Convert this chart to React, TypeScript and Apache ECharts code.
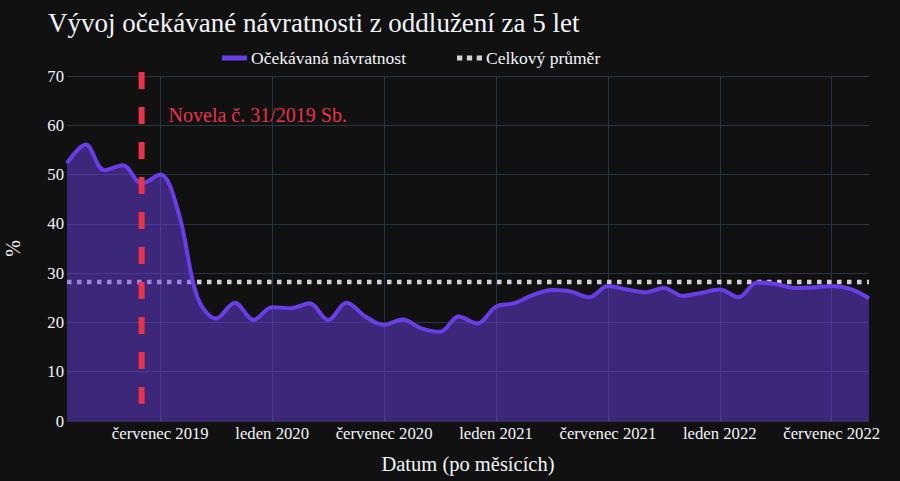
import { useEffect, useRef } from 'react';
import * as echarts from 'echarts';

const MONTHS = [
  '2019-02', '2019-03', '2019-04', '2019-05', '2019-06', '2019-07', '2019-08', '2019-09', '2019-10', '2019-11', '2019-12',
  '2020-01', '2020-02', '2020-03', '2020-04', '2020-05', '2020-06', '2020-07', '2020-08', '2020-09', '2020-10', '2020-11', '2020-12',
  '2021-01', '2021-02', '2021-03', '2021-04', '2021-05', '2021-06', '2021-07', '2021-08', '2021-09', '2021-10', '2021-11', '2021-12',
  '2022-01', '2022-02', '2022-03', '2022-04', '2022-05', '2022-06', '2022-07', '2022-08', '2022-09',
];

const RETURN_PCT = [
  52.3, 56.1, 50.9, 51.9, 48.2, 50.0, 42.0, 25.0, 20.8, 24.0, 20.5,
  23.1, 22.9, 23.9, 20.5, 24.0, 21.2, 19.5, 20.6, 18.8, 18.1, 21.2, 19.8,
  23.2, 23.9, 25.6, 26.6, 26.3, 25.1, 27.4, 26.7, 26.1, 27.0, 25.4, 26.0,
  26.7, 25.1, 28.1, 27.8, 27.0, 27.1, 27.4, 26.8, 24.9,
];

const OVERALL_AVG = 28.2;

// vertical dashed marker for the law change (runs a bit above the top gridline)
const LAW_MONTH = '2019-06';
const LAW_LINE_Y = [70.8, 3.5];
const LAW_LABEL_Y = 62;
const LAW_LABEL = 'Novela č. 31/2019 Sb.';

const MONTH_NAMES: Record<string, string> = { '01': 'leden', '07': 'červenec' };

const BG = '#111111';
const GRID = '#283442';
const TEXT = '#f2f5fa';
const PURPLE = '#6a3ee6';
const AVG_COLOR = '#d0d0d6';
const RED = '#e8334a';
const FONT = 'Liberation Serif, serif';

// three little squares, like the dotted legend sample
const DOTS_ICON = 'path://M0,0h5.3v5h-5.3z M9.85,0h5.3v5h-5.3z M19.7,0h5.3v5h-5.3z';

const isTickMonth = (_i: number, v: string) => v.endsWith('-01') || v.endsWith('-07');

export default function App() {
  const ref = useRef<HTMLDivElement>(null);

  useEffect(() => {
    document.body.style.margin = '0';
    document.body.style.background = BG;
    if (!ref.current) return;
    const chart = echarts.init(ref.current, undefined, { renderer: 'svg' });

    chart.setOption({
      backgroundColor: BG,
      animation: false,
      textStyle: { fontFamily: FONT, color: TEXT },
      title: {
        text: 'Vývoj očekávané návratnosti z oddlužení za 5 let',
        left: 43,
        top: 4,
        textStyle: { fontFamily: FONT, fontSize: 27, fontWeight: 'normal', color: TEXT },
      },
      legend: {
        left: 217,
        top: 44,
        itemGap: 51,
        itemWidth: 25,
        itemHeight: 5,
        textStyle: { fontFamily: FONT, fontSize: 17.5, color: TEXT, padding: [0, 0, 0, -1] },
        data: [
          { name: 'Očekávaná návratnost', icon: 'rect' },
          { name: 'Celkový průměr', icon: DOTS_ICON, itemStyle: { color: AVG_COLOR } },
        ],
      },
      grid: { left: 67, right: 31, top: 76, bottom: 60, outerBoundsMode: 'none', containLabel: false },
      xAxis: {
        type: 'category',
        data: MONTHS,
        boundaryGap: false,
        name: 'Datum (po měsících)',
        nameLocation: 'middle',
        nameGap: 32,
        nameTextStyle: { fontFamily: FONT, fontSize: 20.5, color: TEXT },
        axisLine: { show: false },
        axisTick: { show: false },
        axisLabel: {
          interval: isTickMonth,
          fontFamily: FONT,
          fontSize: 16.7,
          color: TEXT,
          margin: 4,
          formatter: (v: string) => `${MONTH_NAMES[v.slice(5)] ?? ''} ${v.slice(0, 4)}`,
        },
        splitLine: { show: true, interval: isTickMonth, lineStyle: { color: GRID, width: 1 } },
      },
      yAxis: {
        type: 'value',
        min: 0,
        max: 70,
        interval: 10,
        name: '%',
        nameLocation: 'middle',
        nameGap: 44,
        nameRotate: 90,
        nameTextStyle: { fontFamily: FONT, fontSize: 20, color: TEXT },
        axisLine: { show: false },
        axisTick: { show: false },
        axisLabel: { fontFamily: FONT, fontSize: 16.7, color: TEXT, margin: 3 },
        splitLine: { lineStyle: { color: GRID, width: 1 } },
      },
      series: [
        {
          name: 'Celkový průměr',
          type: 'line',
          data: MONTHS.map(() => OVERALL_AVG),
          symbol: 'none',
          lineStyle: { color: AVG_COLOR, width: 4.5, type: [4.5, 5.5], cap: 'butt' },
          itemStyle: { color: AVG_COLOR },
          z: 2,
        },
        {
          name: 'Očekávaná návratnost',
          type: 'line',
          data: RETURN_PCT,
          symbol: 'none',
          smooth: 0.35,
          lineStyle: { color: PURPLE, width: 4 },
          itemStyle: { color: PURPLE },
          areaStyle: { color: PURPLE, opacity: 0.5 },
          z: 3,
          markPoint: {
            silent: true,
            symbol: 'circle',
            symbolSize: 0,
            data: [{ coord: [LAW_MONTH, LAW_LABEL_Y] }],
            label: {
              show: true,
              position: 'right',
              distance: 27,
              formatter: LAW_LABEL,
              fontFamily: FONT,
              fontSize: 20,
              color: RED,
            },
          },
        },
        {
          name: 'law',
          type: 'line',
          data: LAW_LINE_Y.map((y) => [LAW_MONTH, y]),
          symbol: 'none',
          clip: false,
          silent: true,
          lineStyle: { color: RED, width: 6, type: [17, 18], cap: 'butt' },
          z: 4,
        },
      ],
    });

    return () => chart.dispose();
  }, []);

  return <div ref={ref} style={{ width: 900, height: 481 }} />;
}
